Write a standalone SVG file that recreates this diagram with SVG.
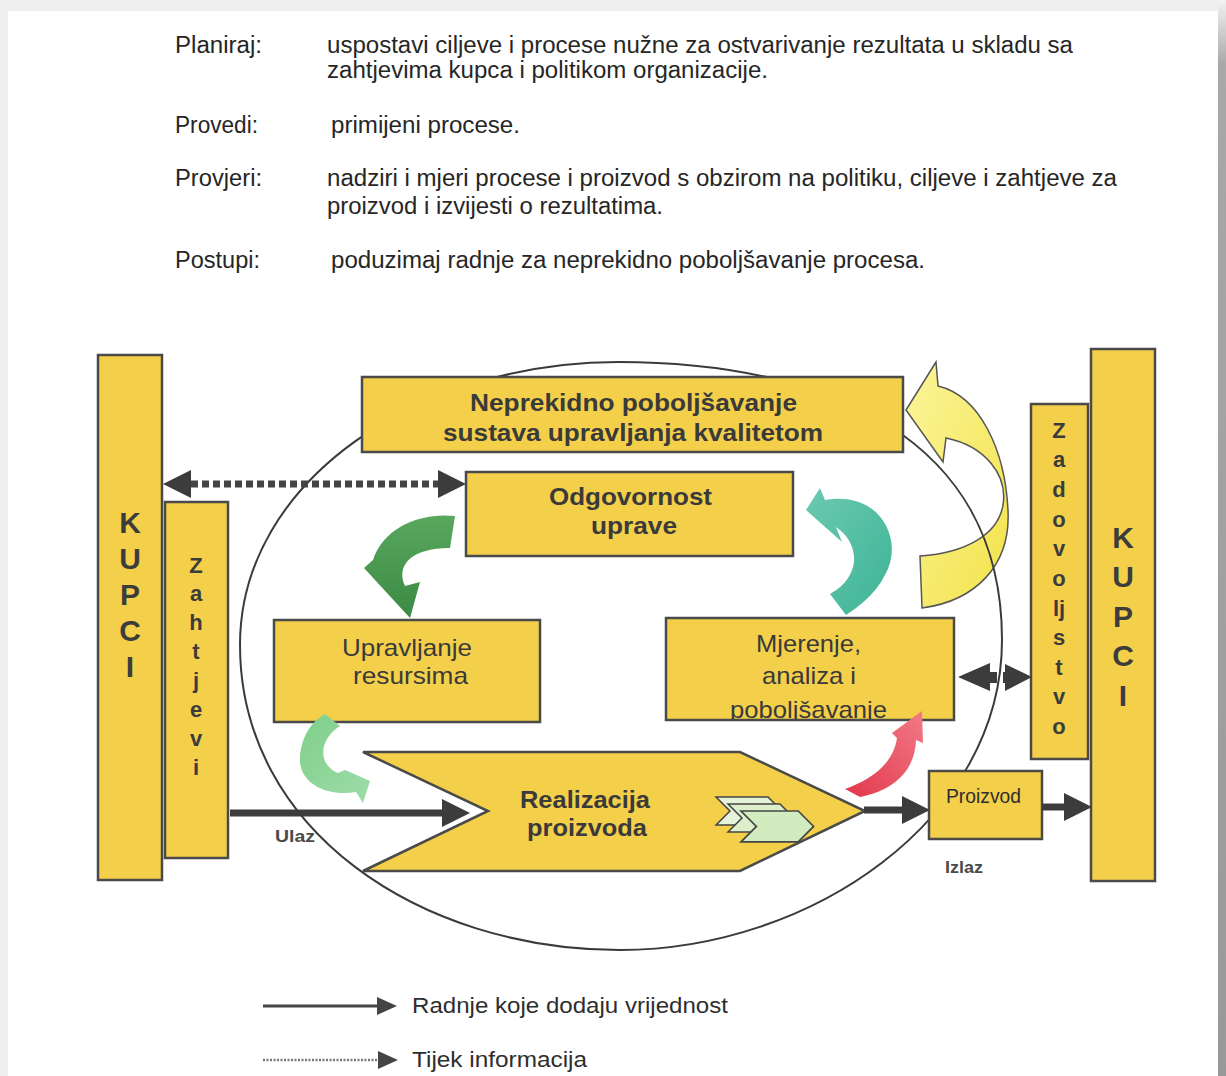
<svg xmlns="http://www.w3.org/2000/svg" width="1226" height="1076" viewBox="0 0 1226 1076">
<style>
.box{fill:#f4cf4a;stroke:#4a4a4a;stroke-width:2.5}
.t{font-family:"Liberation Sans",Arial,sans-serif;fill:#2e2e2e}
.p{font-size:23px;fill:#262626}
.bx{font-size:24px;fill:#3a3a3a}
.b{font-weight:bold}
.c{text-anchor:middle}
.kup{font-size:30px;font-weight:bold;fill:#3c3c3c;text-anchor:middle}
.vl{font-size:22px;font-weight:bold;fill:#3c3c3c;text-anchor:middle}
.sm{font-size:16px;font-weight:bold;fill:#4a4a4a}
.flow{stroke:#3c3c3c;stroke-width:7;fill:none}
.info{stroke:#444;stroke-width:7;stroke-dasharray:7 4;fill:none}
.ico{stroke:#444;stroke-width:1.5}
</style>
<defs>
<linearGradient id="shR" x1="0" y1="0" x2="0" y2="1"><stop offset="0" stop-color="#f2f2f2"/><stop offset="0.06" stop-color="#a8a8a8"/><stop offset="1" stop-color="#999"/></linearGradient>
<linearGradient id="gA" x1="0" y1="0" x2="0" y2="1"><stop offset="0" stop-color="#5aa85e"/><stop offset="1" stop-color="#3a8a45"/></linearGradient>
<linearGradient id="gB" x1="0" y1="0" x2="1" y2="1"><stop offset="0" stop-color="#7fcf8a"/><stop offset="1" stop-color="#9edca8"/></linearGradient>
<linearGradient id="gC" x1="0" y1="0" x2="1" y2="1"><stop offset="0" stop-color="#6cc9b2"/><stop offset="1" stop-color="#3db495"/></linearGradient>
<linearGradient id="gD" x1="0" y1="0" x2="1" y2="1"><stop offset="0" stop-color="#fbf59a"/><stop offset="1" stop-color="#f3e24a"/></linearGradient>
<linearGradient id="gE" x1="0" y1="1" x2="1" y2="0"><stop offset="0" stop-color="#e2384c"/><stop offset="1" stop-color="#f27a86"/></linearGradient>
<marker id="ah" viewBox="0 0 28 28" refX="0" refY="14" markerWidth="28" markerHeight="28" markerUnits="userSpaceOnUse" orient="auto-start-reverse"><path d="M0,0 L28,14 L0,28 Z" fill="#3c3c3c"/></marker>
<marker id="lh" viewBox="0 0 20 18" refX="0" refY="9" markerWidth="20" markerHeight="18" markerUnits="userSpaceOnUse" orient="auto"><path d="M0,0 L20,9 L0,18 Z" fill="#444"/></marker>
<clipPath id="mjClip"><rect x="666" y="618" width="288" height="101"/></clipPath>
<path id="chev" d="M0,0 L52,0 L66,14 L52,28 L0,28 L14,14 Z"/>
</defs>

<!-- page -->
<rect x="0" y="0" width="1226" height="1076" fill="#efefef"/>
<rect x="8" y="11" width="1210" height="1065" fill="#ffffff"/>
<rect x="1218" y="0" width="8" height="1076" fill="url(#shR)"/>

<!-- explanatory text -->
<g id="legend-top" class="t p">
<text x="175" y="53" textLength="87" lengthAdjust="spacingAndGlyphs">Planiraj:</text>
<text x="327" y="53" textLength="746" lengthAdjust="spacingAndGlyphs">uspostavi ciljeve i procese nužne za ostvarivanje rezultata u skladu sa</text>
<text x="327" y="78" textLength="441" lengthAdjust="spacingAndGlyphs">zahtjevima kupca i politikom organizacije.</text>
<text x="175" y="133" textLength="83" lengthAdjust="spacingAndGlyphs">Provedi:</text>
<text x="331" y="133" textLength="189" lengthAdjust="spacingAndGlyphs">primijeni procese.</text>
<text x="175" y="186" textLength="87" lengthAdjust="spacingAndGlyphs">Provjeri:</text>
<text x="327" y="186" textLength="790" lengthAdjust="spacingAndGlyphs">nadziri i mjeri procese i proizvod s obzirom na politiku, ciljeve i zahtjeve za</text>
<text x="327" y="214" textLength="336" lengthAdjust="spacingAndGlyphs">proizvod i izvijesti o rezultatima.</text>
<text x="175" y="268" textLength="85" lengthAdjust="spacingAndGlyphs">Postupi:</text>
<text x="331" y="268" textLength="594" lengthAdjust="spacingAndGlyphs">poduzimaj radnje za neprekidno poboljšavanje procesa.</text>
</g>

<!-- yellow curved arrow (under the ellipse) -->
<g id="arrow-yellow">
<path d="M936 362 L906 410 L943 462 L946 438 C985 446 1008 475 1003 505 C998 535 965 553 920 556 L922 608 C975 601 1011 566 1008 510 C1005 450 980 396 938 386 Z" fill="url(#gD)" stroke="#555" stroke-width="1.5"/>
</g>

<!-- process ellipse -->
<g id="ellipse">
<path d="M618 362 C830 362 1002 440 1002 640 C1002 820 810 950 620 950 C420 950 240 830 240 645 C240 480 420 362 618 362 Z" fill="none" stroke="#3a3a3a" stroke-width="2"/>
</g>

<!-- nodes -->
<g id="kupci-left">
<rect class="box" x="98" y="355" width="64" height="525"/>
<text class="t kup" x="130" y="533">K</text>
<text class="t kup" x="130" y="569">U</text>
<text class="t kup" x="130" y="605">P</text>
<text class="t kup" x="130" y="641">C</text>
<text class="t kup" x="130" y="677">I</text>
</g>
<g id="zahtjevi">
<rect class="box" x="165" y="502" width="63" height="356"/>
<text class="t vl" x="196" y="573">Z</text>
<text class="t vl" x="196" y="601">a</text>
<text class="t vl" x="196" y="630">h</text>
<text class="t vl" x="196" y="659">t</text>
<text class="t vl" x="196" y="688">j</text>
<text class="t vl" x="196" y="717">e</text>
<text class="t vl" x="196" y="746">v</text>
<text class="t vl" x="196" y="775">i</text>
</g>
<g id="kupci-right">
<rect class="box" x="1091" y="349" width="64" height="532"/>
<text class="t kup" x="1123" y="548">K</text>
<text class="t kup" x="1123" y="587">U</text>
<text class="t kup" x="1123" y="627">P</text>
<text class="t kup" x="1123" y="666">C</text>
<text class="t kup" x="1123" y="706">I</text>
</g>
<g id="zadovoljstvo">
<rect class="box" x="1031" y="404" width="57" height="355"/>
<text class="t vl" x="1059" y="438">Z</text>
<text class="t vl" x="1059" y="467">a</text>
<text class="t vl" x="1059" y="497">d</text>
<text class="t vl" x="1059" y="527">o</text>
<text class="t vl" x="1059" y="556">v</text>
<text class="t vl" x="1059" y="586">o</text>
<text class="t vl" x="1059" y="616">lj</text>
<text class="t vl" x="1059" y="645">s</text>
<text class="t vl" x="1059" y="675">t</text>
<text class="t vl" x="1059" y="704">v</text>
<text class="t vl" x="1059" y="734">o</text>
</g>
<g id="neprekidno">
<rect class="box" x="362" y="377" width="541" height="75"/>
<text class="t bx b" x="470" y="411" textLength="327" lengthAdjust="spacingAndGlyphs">Neprekidno poboljšavanje</text>
<text class="t bx b" x="443" y="441" textLength="380" lengthAdjust="spacingAndGlyphs">sustava upravljanja kvalitetom</text>
</g>
<g id="odgovornost">
<rect class="box" x="466" y="472" width="327" height="84"/>
<text class="t bx b" x="549" y="505" textLength="163" lengthAdjust="spacingAndGlyphs">Odgovornost</text>
<text class="t bx b" x="591" y="534" textLength="86" lengthAdjust="spacingAndGlyphs">uprave</text>
</g>
<g id="upravljanje">
<rect class="box" x="274" y="620" width="266" height="102"/>
<text class="t bx" x="342" y="656" textLength="130" lengthAdjust="spacingAndGlyphs">Upravljanje</text>
<text class="t bx" x="353" y="684" textLength="115" lengthAdjust="spacingAndGlyphs">resursima</text>
</g>
<g id="mjerenje">
<rect class="box" x="666" y="618" width="288" height="102"/>
<g clip-path="url(#mjClip)">
<text class="t bx" x="756" y="652" textLength="105" lengthAdjust="spacingAndGlyphs">Mjerenje,</text>
<text class="t bx" x="762" y="684" textLength="94" lengthAdjust="spacingAndGlyphs">analiza i</text>
<text class="t bx" x="730" y="718" textLength="157" lengthAdjust="spacingAndGlyphs">poboljšavanje</text>
</g>
</g>
<g id="realizacija">
<path class="box" d="M363 752 L740 752 L865 811 L740 871 L363 871 L488 811 Z"/>
<text class="t bx b" x="520" y="808" textLength="130" lengthAdjust="spacingAndGlyphs">Realizacija</text>
<text class="t bx b" x="527" y="836" textLength="120" lengthAdjust="spacingAndGlyphs">proizvoda</text>
<use href="#chev" class="ico" fill="#e6f3d8" transform="translate(716,797)"/>
<use href="#chev" class="ico" fill="#dcefca" transform="translate(728,804)"/>
<use href="#chev" class="ico" fill="#d3ecbf" transform="translate(741,811) scale(1.1)"/>
</g>
<g id="proizvod">
<rect class="box" x="929" y="771" width="113" height="68"/>
<text class="t" x="946" y="803" font-size="21" fill="#3a3a3a" textLength="75" lengthAdjust="spacingAndGlyphs">Proizvod</text>
</g>

<!-- connectors -->
<g id="connectors">
<line class="flow" x1="230" y1="813" x2="442" y2="813" marker-end="url(#ah)"/>
<line class="flow" x1="864" y1="810" x2="902" y2="810" stroke-width="8" marker-end="url(#ah)"/>
<line class="flow" x1="1042" y1="807" x2="1064" y2="807" stroke-width="8" marker-end="url(#ah)"/>
<line class="info" x1="191" y1="484" x2="438" y2="484" marker-start="url(#ah)" marker-end="url(#ah)"/>
<path d="M958 677 L990 663 L990 672 L997 672 L997 683 L990 683 L990 691 Z" fill="#3c3c3c"/>
<path d="M1032 677 L1005 664 L1005 672 L1003 672 L1003 683 L1005 683 L1005 691 Z" fill="#3c3c3c"/>
<path id="arrow-darkgreen" d="M455 516 C420 512 383 528 373 560 L364 568 L410 618 L420 582 L405 586 C396 566 410 548 450 548 Z" fill="url(#gA)"/>
<path id="arrow-lightgreen" d="M325 714 L340 726 C318 740 318 765 338 773 L345 770 L370 781 L363 803 L356 792 C330 797 300 785 300 760 C300 740 310 722 325 714 Z" fill="url(#gB)"/>
<path id="arrow-teal" d="M830 594 C860 578 862 545 836 527 L842 542 L806 510 L820 488 L825 500 C880 490 905 540 885 575 C875 595 858 607 846 615 Z" fill="url(#gC)"/>
<path id="arrow-red" d="M845 789 C870 780 893 765 897 738 L892 733 L922 711 L923 743 L916 740 C915 770 895 790 860 797 Z" fill="url(#gE)"/>
<text class="t sm" x="275" y="842" textLength="40" lengthAdjust="spacingAndGlyphs">Ulaz</text>
<text class="t sm" x="945" y="873" textLength="38" lengthAdjust="spacingAndGlyphs">Izlaz</text>
</g>

<!-- legend -->
<g id="legend">
<line x1="263" y1="1006" x2="377" y2="1006" stroke="#444" stroke-width="3" marker-end="url(#lh)"/>
<line x1="263" y1="1060" x2="378" y2="1060" stroke="#777" stroke-width="2.5" stroke-dasharray="2 1.5" marker-end="url(#lh)"/>
<text class="t" x="412" y="1013" font-size="22" fill="#3a3a3a" textLength="316" lengthAdjust="spacingAndGlyphs">Radnje koje dodaju vrijednost</text>
<text class="t" x="412" y="1067" font-size="22" fill="#3a3a3a" textLength="175" lengthAdjust="spacingAndGlyphs">Tijek informacija</text>
</g>
</svg>
